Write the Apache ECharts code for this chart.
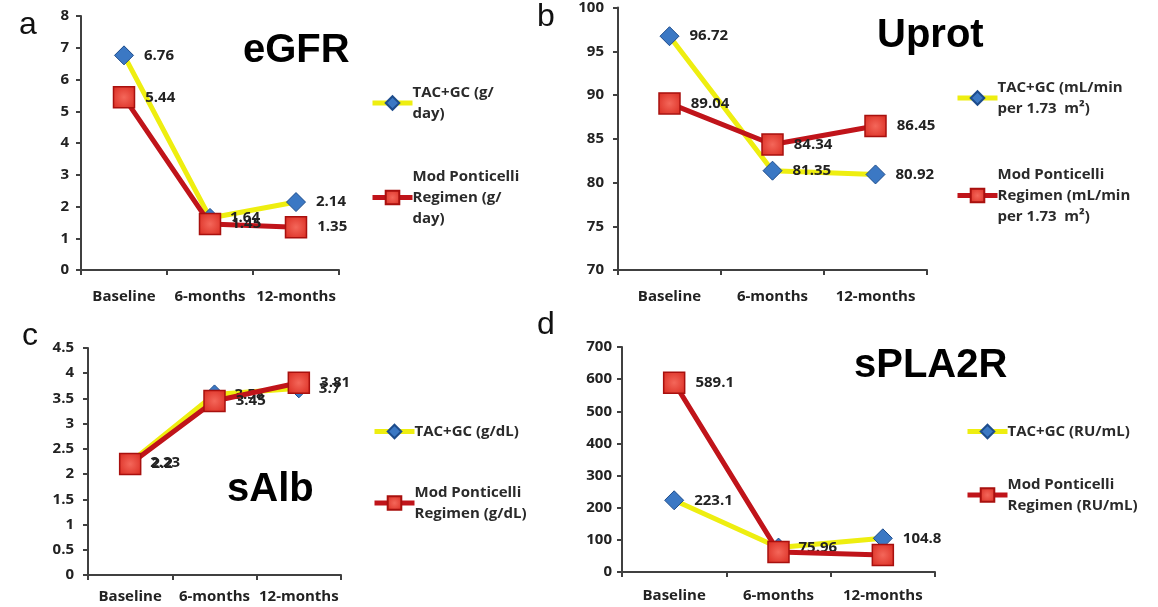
<!DOCTYPE html>
<html>
<head>
<meta charset="utf-8">
<script src="https://cdn.jsdelivr.net/npm/echarts@6/dist/echarts.min.js"></script>
<style>
html,body{margin:0;padding:0;background:#fff;}
#c{width:1158px;height:607px;}
</style>
</head>
<body>
<div id="c"></div>
<script>
// ---- data ----
const categories = ['Baseline', '6-months', '12-months'];

const aTac = [6.76, 1.64, 2.14];
const aMod = [5.44, 1.45, 1.35];

const bTac = [96.72, 81.35, 80.92];
const bMod = [89.04, 84.34, 86.45];

const cTac = [2.23, 3.58, 3.7];
const cMod = [2.2, 3.45, 3.81];

const dTac = [223.1, 75.96, 104.8];
const dMod = [589.1, 62, 53];
const dModLabelShown = [true, false, false];

const panelTitles = ['eGFR', 'Uprot', 'sAlb', 'sPLA2R'];
const panelLetters = ['a', 'b', 'c', 'd'];
const legendTac = ['TAC+GC (g/\nday)', 'TAC+GC (mL/min\nper 1.73  m²)', 'TAC+GC (g/dL)', 'TAC+GC (RU/mL)'];
const legendMod = ['Mod Ponticelli\nRegimen (g/\nday)', 'Mod Ponticelli\nRegimen (mL/min\nper 1.73  m²)', 'Mod Ponticelli\nRegimen (g/dL)', 'Mod Ponticelli\nRegimen (RU/mL)'];

const yMin = [0, 70, 0, 0];
const yMax = [8, 100, 4.5, 700];
const yInterval = [1, 5, 0.5, 100];

// ---- layout ----
const grids = [
  {left: 81, top: 16, width: 258, height: 254},
  {left: 618, top: 5, width: 309, height: 265},
  {left: 88, top: 348, width: 253, height: 227},
  {left: 622, top: 347, width: 313, height: 225}
];
const xLabelMargin = [19, 19, 14, 16];
const yLabelMargin = [12, 14, 14, 10];
const legendPos = [
  {left: 370, top: 82, itemGap: 42},
  {left: 955, top: 77, itemGap: 45},
  {left: 372, top: 421, itemGap: 40},
  {left: 965, top: 421, itemGap: 32}
];
const titlePos = [
  {left: 243, top: 31}, {left: 877, top: 16}, {left: 227, top: 470}, {left: 854, top: 346}
];
const letterPos = [
  {left: 19, top: 9}, {left: 537, top: 1}, {left: 22, top: 320}, {left: 537, top: 309}
];

const axisFont = {fontFamily: 'Open Sans', fontWeight: 700, fontSize: 15, color: '#222'};
const axisLine = {show: true, lineStyle: {color: '#404040', width: 2}};
const axisTick = {show: true, length: 5, lineStyle: {color: '#404040', width: 2}};

const tacLine = {color: '#eeee10', width: 5};
const modLine = {color: '#c0141a', width: 5};
const tacItem = {color: '#3b78c4', borderColor: '#1d4c8c', borderWidth: 1};
const modItem = {
  color: {type: 'radial', x: 0.5, y: 0.5, r: 0.7, colorStops: [{offset: 0, color: '#f4675a'}, {offset: 1, color: '#d8281e'}]},
  borderColor: '#a8100e', borderWidth: 1.5
};
const labelStyle = {show: true, position: 'right', distance: 10, fontFamily: 'Open Sans', fontWeight: 700, fontSize: 15, color: '#222'};

const tacSets = [aTac, bTac, cTac, dTac];
const modSets = [aMod, bMod, cMod, dMod];

const option = {
  backgroundColor: '#ffffff',
  animation: false,
  title: [],
  legend: [],
  grid: [],
  xAxis: [],
  yAxis: [],
  series: []
};

for (let i = 0; i < 4; i++) {
  option.grid.push(Object.assign({containLabel: false}, grids[i]));
  option.xAxis.push({
    type: 'category', gridIndex: i, data: categories, boundaryGap: true,
    axisLine: axisLine, axisTick: Object.assign({alignWithLabel: false}, axisTick),
    axisLabel: Object.assign({margin: xLabelMargin[i], interval: 0}, axisFont),
    splitLine: {show: false}
  });
  option.yAxis.push({
    type: 'value', gridIndex: i, min: yMin[i], max: yMax[i], interval: yInterval[i],
    axisLine: axisLine, axisTick: axisTick,
    axisLabel: Object.assign({margin: yLabelMargin[i]}, axisFont),
    splitLine: {show: false}
  });
  const tacName = legendTac[i];
  const modName = legendMod[i];
  option.series.push({
    type: 'line', name: tacName, xAxisIndex: i, yAxisIndex: i,
    data: tacSets[i], symbol: 'diamond', symbolSize: 19,
    lineStyle: tacLine, itemStyle: tacItem, label: labelStyle, z: 2
  });
  const modData = modSets[i].map((v, k) => (i === 3 && !dModLabelShown[k]) ? {value: v, label: {show: false}} : v);
  option.series.push({
    type: 'line', name: modName, xAxisIndex: i, yAxisIndex: i,
    data: modData, symbol: 'rect', symbolSize: 21,
    lineStyle: modLine, itemStyle: modItem, label: labelStyle, z: 3
  });
  option.legend.push({
    orient: 'vertical', left: legendPos[i].left, top: legendPos[i].top, itemGap: legendPos[i].itemGap,
    itemWidth: 40, itemHeight: 17, padding: 0,
    lineStyle: {width: 5},
    data: [tacName, modName],
    textStyle: {fontFamily: 'Open Sans', fontWeight: 700, fontSize: 15, lineHeight: 21, color: '#2a2a2a', padding: [0, 0, 0, -5]}
  });
  option.title.push({
    text: panelTitles[i], left: titlePos[i].left, top: titlePos[i].top, padding: 0,
    textStyle: {fontFamily: 'Liberation Sans', fontWeight: 'bold', fontSize: 40, color: '#000'}
  });
  option.title.push({
    text: panelLetters[i], left: letterPos[i].left, top: letterPos[i].top, padding: 0,
    textStyle: {fontFamily: 'Liberation Sans', fontWeight: 'normal', fontSize: 32, color: '#111'}
  });
}

const chart = echarts.init(document.getElementById('c'), null, {renderer: 'canvas'});
chart.setOption(option);
</script>
</body>
</html>
